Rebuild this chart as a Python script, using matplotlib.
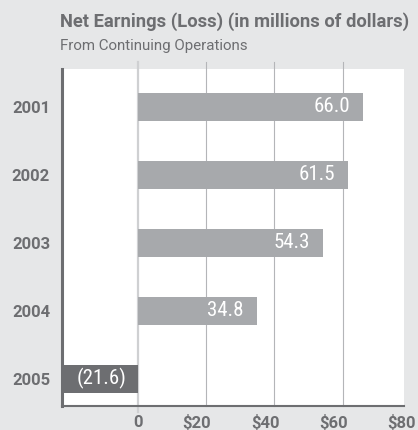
import matplotlib.pyplot as plt
from matplotlib import transforms

plt.rcParams['font.family'] = ['Roboto', 'DejaVu Sans']

# data
years = ['2001', '2002', '2003', '2004', '2005']
earnings = [66.0, 61.5, 54.3, 34.8, -21.6]
value_labels = ['66.0', '61.5', '54.3', '34.8', '(21.6)']
tick_vals = [0, 20, 40, 60, 80]
tick_text = ['0', '$20', '$40', '$60', '$80']

bg = '#e6e7e8'
dark = '#6d6e71'
light = '#a7a9ac'

fig = plt.figure(figsize=(4.18, 4.30), dpi=100, facecolor=bg)
ax = fig.add_axes([62/418, 24/430, 342/418, 336.5/430])
ax.set_facecolor('white')

ypos = list(range(len(years)))
colors = [light if v >= 0 else dark for v in earnings]

# grid lines, poking out above the white box
for v in tick_vals[1:4]:
    ax.axvline(v, ymin=0, ymax=1 + 7.5/336.5, color='#b4b5b8', lw=0.8,
               clip_on=False, zorder=0)
ax.axvline(0, ymin=-6/336.5, ymax=1 + 7.5/336.5, color='#cfd0d2', lw=1.6,
           clip_on=False, zorder=0)

ax.barh(ypos, earnings, height=0.42, color=colors, zorder=2)

for y, v, lab in zip(ypos, earnings, value_labels):
    if v >= 0:
        ax.annotate(lab, (v, y), xytext=(-9.4, 0), textcoords='offset points',
                    ha='right', va='center', color='white', fontsize=15,
                    family='Roboto Condensed', zorder=3)
    else:
        ax.annotate(lab, (v / 2, y), ha='center', va='center', color='white',
                    fontsize=15, family='Roboto Condensed', zorder=3)

ax.set_xlim(-22.3, 78)
ax.set_ylim(4.4, -0.55)

ax.set_xticks([])
ax.set_yticks(ypos, years)
ax.tick_params(axis='y', length=0, pad=8.6, labelsize=12, labelcolor=dark)
for t in ax.get_yticklabels():
    t.set_fontweight('bold')

# x labels ($80 sits past the right edge of the box)
off = transforms.ScaledTranslation(5/100, -9/100, fig.dpi_scale_trans)
for v, lab in zip(tick_vals, tick_text):
    ax.text(v, 0, lab, transform=ax.get_xaxis_transform() + off,
            ha='right', va='top', fontsize=12, fontweight='bold',
            color=dark, clip_on=False)

for s in ['top', 'right']:
    ax.spines[s].set_visible(False)
ax.spines['left'].set_color(dark)
ax.spines['left'].set_linewidth(2.2)
ax.spines['bottom'].set_color(dark)
ax.spines['bottom'].set_linewidth(1.5)

fig.text(60/418, 1 - 27/430, 'Net Earnings (Loss) (in millions of dollars)',
         ha='left', va='baseline', fontsize=13.2, fontweight='bold', color=dark)
fig.text(60/418, 1 - 50/430, 'From Continuing Operations',
         ha='left', va='baseline', fontsize=10.9, color=dark)

plt.savefig('out.png', dpi=100, facecolor=bg)
